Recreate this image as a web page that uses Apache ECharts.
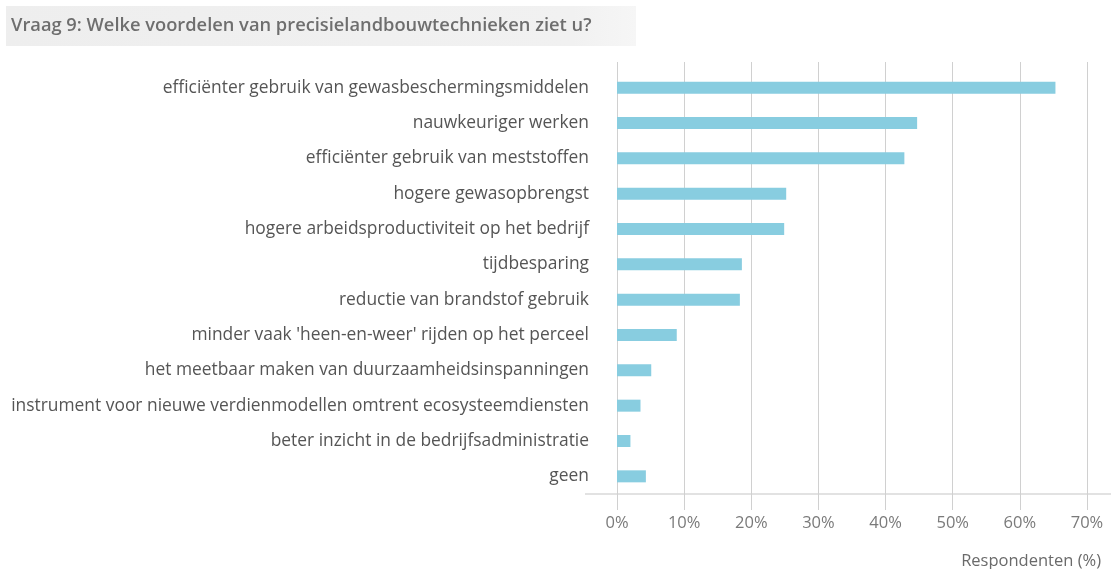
<!DOCTYPE html>
<html><head><meta charset="utf-8">
<script src="https://cdn.jsdelivr.net/npm/echarts@6/dist/echarts.min.js"></script>
<style>html,body{margin:0;padding:0;background:#fff}#c{width:1111px;height:569px}</style>
</head><body><div id="c"></div>
<script>
const titleText = "Vraag 9: Welke voordelen van precisielandbouwtechnieken ziet u?";
const axisName = "Respondenten (%)";
const categories = [
  "efficiënter gebruik van gewasbeschermingsmiddelen",
  "nauwkeuriger werken",
  "efficiënter gebruik van meststoffen",
  "hogere gewasopbrengst",
  "hogere arbeidsproductiviteit op het bedrijf",
  "tijdbesparing",
  "reductie van brandstof gebruik",
  "minder vaak 'heen-en-weer' rijden op het perceel",
  "het meetbaar maken van duurzaamheidsinspanningen",
  "instrument voor nieuwe verdienmodellen omtrent ecosysteemdiensten",
  "beter inzicht in de bedrijfsadministratie",
  "geen"
];
const values = [65.3, 44.7, 42.8, 25.2, 24.9, 18.6, 18.3, 8.9, 5.1, 3.5, 2.0, 4.3];
const xTicks = [0, 10, 20, 30, 40, 50, 60, 70];

const chart = echarts.init(document.getElementById('c'), null, {renderer: 'canvas'});
const font = '"Open Sans", "Noto Sans", sans-serif';
const gridColor = '#d0d0d0';
chart.setOption({
  animation: false,
  graphic: [
    {type: 'rect', shape: {x: 6, y: 6, width: 630, height: 40},
     style: {fill: new echarts.graphic.LinearGradient(0, 0, 1, 0, [{offset: 0, color: '#eeeeee'}, {offset: 0.9, color: '#f1f1f1'}, {offset: 1, color: '#f6f6f6'}])}},
    {type: 'text', left: 11, top: 17,
     style: {text: titleText, font: '600 18.3px ' + font, fill: '#6e6e6e'}},
    {type: 'line', shape: {x1: 585, y1: 494, x2: 1111, y2: 494}, style: {stroke: '#e2e2e2', lineWidth: 2}}
  ],
  grid: {left: 617, right: 24, top: 70, bottom: 75, containLabel: false, outerBoundsMode: 'none'},
  xAxis: [{
    type: 'value', min: xTicks[0], max: xTicks[xTicks.length - 1], interval: 10,
    axisLine: {show: false},
    axisTick: {show: true, length: 16, lineStyle: {color: gridColor}},
    splitLine: {show: true, lineStyle: {color: gridColor, width: 1}},
    axisLabel: {formatter: v => v + '%', color: '#7a7a7a', fontSize: 16.5, fontFamily: font, margin: 21},
    name: axisName, nameLocation: 'end',
    nameTextStyle: {color: '#6a6a6a', fontSize: 16.5, fontFamily: font, align: 'right', verticalAlign: 'top', padding: [59, 0, 0, 0]},
    nameGap: 14
  }, {
    type: 'value', position: 'top', min: xTicks[0], max: xTicks[xTicks.length - 1], interval: 10,
    axisLine: {show: false},
    axisTick: {show: true, length: 8, lineStyle: {color: gridColor}},
    splitLine: {show: false}, axisLabel: {show: false}
  }],
  yAxis: {
    type: 'category', data: categories, inverse: true,
    axisLine: {show: false}, axisTick: {show: false},
    axisLabel: {color: '#555555', fontSize: 17.4, fontFamily: font, margin: 28}
  },
  series: [{
    type: 'bar', data: values, barWidth: 12, xAxisIndex: 0,
    itemStyle: {color: '#88cde0'}
  }]
});
</script></body></html>
